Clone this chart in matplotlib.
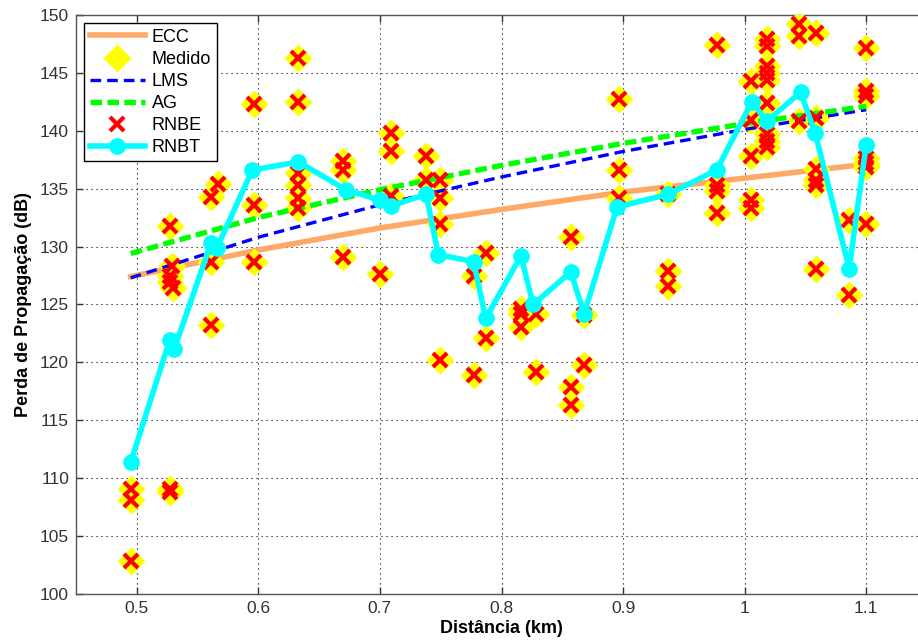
import matplotlib
matplotlib.use("Agg")
import matplotlib.pyplot as plt

plt.rcParams['font.family'] = ['Liberation Sans', 'DejaVu Sans']

# Model curves (values read at these distances)
line_x = [0.495, 0.6, 0.7, 0.8, 0.9, 1.0, 1.1]
ecc = [127.4, 129.7, 131.6, 133.2, 134.7, 135.9, 137.1]
lms = [127.3, 130.8, 133.6, 136.0, 138.2, 140.1, 141.8]
ag = [129.4, 132.5, 134.9, 137.0, 138.9, 140.6, 142.1]

# Measured points
med_x = [0.495, 0.495, 0.495,
         0.527, 0.527,
         0.527, 0.529, 0.527, 0.527, 0.530,
         0.561, 0.561, 0.561, 0.567,
         0.596, 0.596, 0.596,
         0.633, 0.633, 0.633, 0.633, 0.633, 0.633,
         0.670, 0.670, 0.670,
         0.700,
         0.709, 0.709, 0.709,
         0.738, 0.738,
         0.749, 0.749, 0.749, 0.749,
         0.777, 0.777,
         0.787, 0.787,
         0.816, 0.816, 0.816,
         0.828, 0.828,
         0.857, 0.857, 0.857,
         0.868, 0.868,
         0.897, 0.897, 0.897,
         0.937, 0.937, 0.937,
         0.977, 0.977, 0.977, 0.977,
         1.005, 1.005, 1.005, 1.005, 1.005,
         1.018, 1.018, 1.018, 1.018, 1.018, 1.018, 1.018, 1.018, 1.018,
         1.045, 1.045, 1.045,
         1.059, 1.059, 1.059, 1.059, 1.059, 1.059,
         1.086, 1.086,
         1.100, 1.100, 1.100, 1.100, 1.100, 1.100, 1.100]
med_y = [109.1, 108.1, 102.9,
         109.1, 108.8,
         131.8, 128.3, 127.5, 126.9, 126.4,
         123.2, 128.7, 134.3, 135.4,
         142.3, 133.6, 128.7,
         146.3, 142.5, 136.3, 135.3, 134.2, 133.3,
         137.4, 136.6, 129.1,
         127.6,
         139.8, 138.2, 134.4,
         137.8, 135.7,
         135.7, 134.2, 131.9, 120.2,
         127.5, 118.9,
         129.4, 122.1,
         124.6, 124.2, 123.1,
         124.2, 119.2,
         130.8, 117.9, 116.3,
         124.1, 119.8,
         142.7, 136.6, 134.2,
         134.5, 127.9, 126.6,
         147.4, 135.3, 134.8, 132.9,
         144.3, 140.9, 137.8, 134.0, 133.3,
         147.9, 147.3, 145.6, 145.0, 144.4, 142.4, 139.7, 139.1, 138.6,
         149.2, 148.2, 140.8,
         148.4, 141.1, 136.7, 135.7, 135.3, 128.1,
         132.3, 125.8,
         147.1, 143.4, 143.0, 137.6, 137.2, 136.9, 131.9]

# RNBE estimates (coincide with the measured points)
rnbe_x = list(med_x)
rnbe_y = list(med_y)

# RNBT curve
rnbt_x = [0.495, 0.527, 0.531, 0.561, 0.566, 0.595, 0.633, 0.672, 0.700, 0.709,
          0.738, 0.748, 0.777, 0.787, 0.816, 0.826, 0.857, 0.868, 0.895, 0.937,
          0.977, 1.006, 1.018, 1.046, 1.058, 1.086, 1.100]
rnbt_y = [111.4, 121.9, 121.2, 130.3, 129.9, 136.6, 137.3, 134.9, 134.0, 133.5,
          134.5, 129.3, 128.7, 123.8, 129.2, 125.0, 127.8, 124.2, 133.4, 134.5,
          136.6, 142.5, 140.8, 143.3, 139.8, 128.1, 138.8]

xticks = [0.5, 0.6, 0.7, 0.8, 0.9, 1.0, 1.1]
xticklabels = ['0.5', '0.6', '0.7', '0.8', '0.9', '1', '1.1']
yticks = list(range(100, 151, 5))

fig = plt.figure(figsize=(9.18, 6.44), dpi=100)
ax = fig.add_axes([0.0828, 0.0772, 0.927, 0.900])

ax.plot(line_x, ecc, color='#FFA966', lw=4, label='ECC', zorder=2)
ax.plot(med_x, med_y, ls='none', marker='D', ms=13, mfc='#FFFF00', mec='#FFFF00',
        label='Medido', zorder=3)
ax.plot(line_x, lms, color='#0000FF', lw=2.4, ls=(0, (3.2, 1.8)), label='LMS', zorder=4)
ax.plot(line_x, ag, color='#00FF00', lw=3.8, ls=(0, (2.2, 1.0)), label='AG', zorder=4)
ax.plot(rnbe_x, rnbe_y, ls='none', marker='x', ms=10, mew=3, color='#FF0000',
        label='RNBE', zorder=5)
ax.plot(rnbt_x, rnbt_y, color='#00FFFF', lw=4, marker='o', ms=11, mfc='#00FFFF',
        mec='#00FFFF', label='RNBT', zorder=6)

ax.set_xlim(0.45, 1.15)
ax.set_ylim(100, 150)
ax.set_xticks(xticks)
ax.set_xticklabels(xticklabels)
ax.set_yticks(yticks)
ax.tick_params(direction='in', top=True, right=True, length=5, width=1,
               labelsize=12.5, labelcolor='#333333', color='#333333', pad=5)
ax.grid(True, ls=(0, (1, 3.5)), color='black', lw=0.8)
for s in ax.spines.values():
    s.set_color('#555555')
    s.set_linewidth(1)

ax.set_xlabel('Distância (km)', fontsize=13, fontweight='bold', labelpad=3)
ax.set_ylabel('Perda de Propagação (dB)', fontsize=13, fontweight='bold', labelpad=6)

leg = ax.legend(loc='upper left', bbox_to_anchor=(0.0095, 0.985), fontsize=13,
                handlelength=3.1, frameon=True, fancybox=False, framealpha=1,
                edgecolor='black', borderpad=0.3, labelspacing=0.28, handletextpad=0.35,
                borderaxespad=0)
leg.get_frame().set_linewidth(1)

fig.savefig('out.png', dpi=100)
